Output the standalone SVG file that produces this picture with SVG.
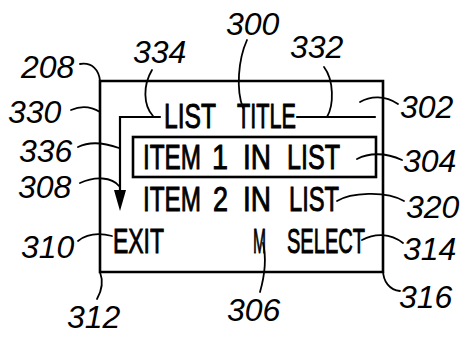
<svg xmlns="http://www.w3.org/2000/svg" width="464" height="337" viewBox="0 0 464 337">
<style>
.box{fill:none;stroke:#000;stroke-width:2.6}
.ln{fill:none;stroke:#000;stroke-width:2.2;stroke-linecap:round}
.ld{fill:none;stroke:#000;stroke-width:1.8;stroke-linecap:round}
.t{font-family:"Liberation Sans",Arial,sans-serif;font-size:26px;fill:#000;stroke:#000;stroke-width:0.7}
.n{font-family:"Liberation Sans",Arial,sans-serif;font-style:italic;font-size:32px;fill:#000}
</style>
<rect width="464" height="337" fill="#fff"/>
<g id="screen">
  <path class="box" d="M100,81 H383 V272 H100 Z"/>
</g>
<g id="title" transform="translate(0,128) scale(1,1.36)">
  <text class="t" x="164" y="0" textLength="52" lengthAdjust="spacingAndGlyphs">LIST</text>
  <text class="t" x="237" y="0" textLength="59" lengthAdjust="spacingAndGlyphs">TITLE</text>
</g>
<g id="item1">
  <rect class="box" x="133" y="137" width="243" height="40"/>
  <g transform="translate(0,169) scale(1,1.36)">
    <text class="t" x="143" y="0" textLength="58" lengthAdjust="spacingAndGlyphs">ITEM</text>
    <text class="t" x="212" y="0" textLength="16" lengthAdjust="spacingAndGlyphs">1</text>
    <text class="t" x="243" y="0" textLength="28" lengthAdjust="spacingAndGlyphs">IN</text>
    <text class="t" x="287" y="0" textLength="53" lengthAdjust="spacingAndGlyphs">LIST</text>
  </g>
</g>
<g id="item2" transform="translate(0,211) scale(1,1.36)">
  <text class="t" x="143" y="0" textLength="58" lengthAdjust="spacingAndGlyphs">ITEM</text>
  <text class="t" x="213" y="0" textLength="15" lengthAdjust="spacingAndGlyphs">2</text>
  <text class="t" x="243" y="0" textLength="28" lengthAdjust="spacingAndGlyphs">IN</text>
  <text class="t" x="289" y="0" textLength="50" lengthAdjust="spacingAndGlyphs">LIST</text>
</g>
<g id="exit" transform="translate(0,253) scale(1,1.36)">
  <text class="t" x="113" y="0" textLength="51" lengthAdjust="spacingAndGlyphs">EXIT</text>
</g>
<g id="menu" transform="translate(0,253) scale(1,1.36)">
  <text class="t" x="253" y="0" textLength="13" lengthAdjust="spacingAndGlyphs">M</text>
</g>
<g id="select" transform="translate(0,253) scale(1,1.36)">
  <text class="t" x="287" y="0" textLength="78" lengthAdjust="spacingAndGlyphs">SELECT</text>
</g>
<g id="connectors">
  <path class="ln" d="M160,117 H120 V192"/>
  <polygon points="114,190 126,190 120,211" fill="#000"/>
  <path class="ln" d="M297,117 H375"/>
  <path class="ld" d="M80,64 C92,62 99,70 100,81"/>
  <path class="ld" d="M71,110 C82,105 92,107 100,112"/>
  <path class="ld" d="M78,147 C90,141 105,143 119,148"/>
  <path class="ld" d="M152,70 C143,85 143,105 153,116"/>
  <path class="ld" d="M247,40 C238,60 236,90 243,108"/>
  <path class="ld" d="M324,67 C334,80 334,105 327,117"/>
  <path class="ld" d="M360,102 C370,96 385,95 398,104"/>
  <path class="ld" d="M357,159 C368,153 385,152 402,160"/>
  <path class="ld" d="M80,183 C95,176 112,177 119,186"/>
  <path class="ld" d="M337,201 C350,193 385,190 404,201"/>
  <path class="ld" d="M362,240 C375,233 390,233 403,243"/>
  <path class="ld" d="M78,241 C88,233 100,233 112,236"/>
  <path class="ld" d="M100,272 C104,283 101,292 97,299"/>
  <path class="ld" d="M263,243 C267,260 264,278 260,292"/>
  <path class="ld" d="M383,270 C383,282 390,290 400,291"/>
</g>
<g id="labels">
  <text class="n" x="226" y="35">300</text>
  <text class="n" x="290" y="58">332</text>
  <text class="n" x="133" y="63">334</text>
  <text class="n" x="21" y="78">208</text>
  <text class="n" x="8" y="123">330</text>
  <text class="n" x="19" y="162">336</text>
  <text class="n" x="400" y="118">302</text>
  <text class="n" x="403" y="172">304</text>
  <text class="n" x="18" y="198">308</text>
  <text class="n" x="406" y="218">320</text>
  <text class="n" x="21" y="258">310</text>
  <text class="n" x="403" y="260">314</text>
  <text class="n" x="67" y="328">312</text>
  <text class="n" x="227" y="321">306</text>
  <text class="n" x="399" y="308">316</text>
</g>
</svg>
